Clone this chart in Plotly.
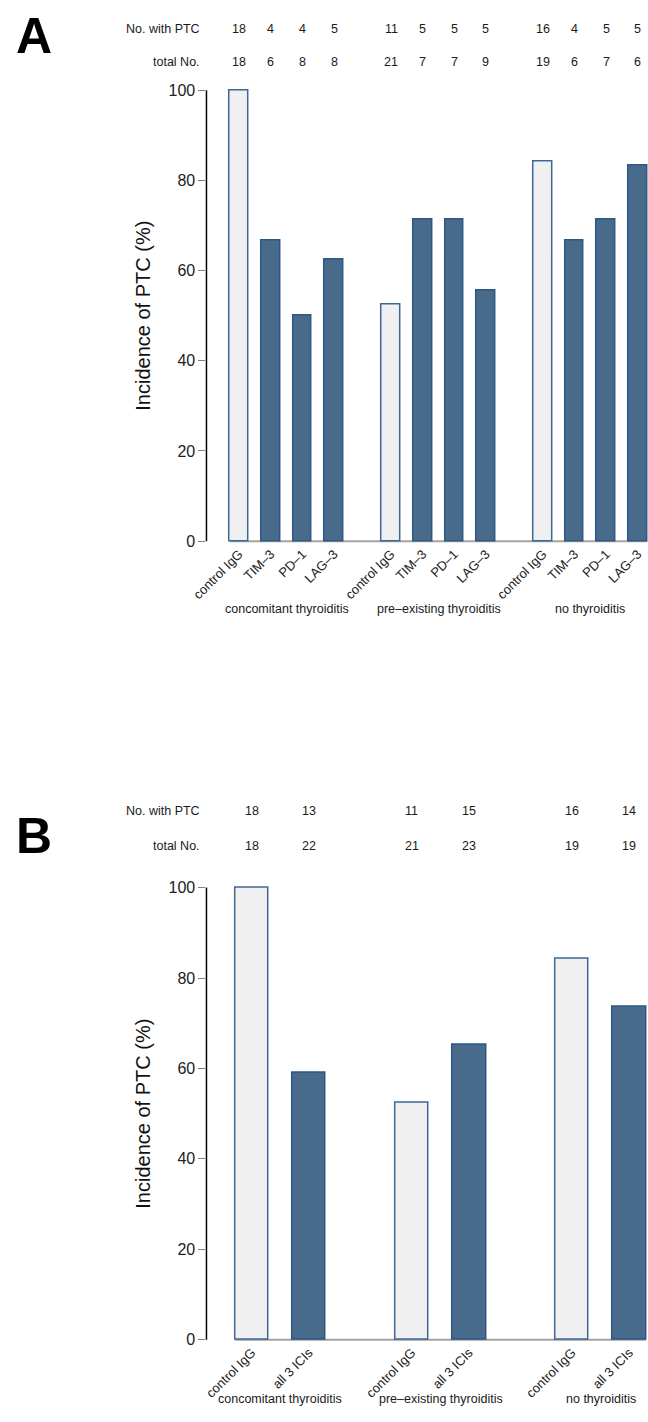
import plotly.graph_objects as go

W, H = 648, 1422
FONT = "Liberation Sans, Arial, Helvetica, sans-serif"

# ---------------- data ----------------
groups = ["concomitant thyroiditis", "pre\u2013existing thyroiditis", "no thyroiditis"]

a_treatments = ["control IgG", "TIM\u20133", "PD\u20131", "LAG\u20133"]
a_no_ptc = [[18, 4, 4, 5], [11, 5, 5, 5], [16, 4, 5, 5]]
a_total = [[18, 6, 8, 8], [21, 7, 7, 9], [19, 6, 7, 6]]
a_incidence = [[100.0, 66.7, 50.0, 62.5], [52.4, 71.4, 71.4, 55.6], [84.2, 66.7, 71.4, 83.3]]

b_treatments = ["control IgG", "all 3 ICIs"]
b_no_ptc = [[18, 13], [11, 15], [16, 14]]
b_total = [[18, 22], [21, 23], [19, 19]]
b_incidence = [[100.0, 59.1], [52.4, 65.2], [84.2, 73.7]]

y_ticks = [0, 20, 40, 60, 80, 100]

# ---------------- styles ----------------
LIGHT_FILL, LIGHT_LINE = "#eff0ef", "#3d6896"
DARK_FILL, DARK_LINE = "#486a8b", "#2d5884"
BAR_W = 0.59
GROUP_GAP = 0.8


def py(px):
    return 1 - px / H


fig = go.Figure()
annotations = []
shapes = []


def add_panel(idx, treatments, no_ptc, total, incidence, y_top_px, y_bot_px,
              row1_px, row2_px, label_px, letter, letter_px, xrange):
    xa = "x" if idx == 1 else "x2"
    ya = "y" if idx == 1 else "y2"
    n = len(treatments)
    positions, texts, vals, fills, lines = [], [], [], [], []
    for g in range(len(groups)):
        for i in range(n):
            positions.append(g * (n + GROUP_GAP) + i)
            texts.append(treatments[i])
            vals.append(incidence[g][i])
            fills.append(LIGHT_FILL if i == 0 else DARK_FILL)
            lines.append(LIGHT_LINE if i == 0 else DARK_LINE)
    # baseline
    shapes.append(dict(type="line", xref=xa, yref=ya,
                       x0=positions[0] - BAR_W / 2, x1=positions[-1] + BAR_W / 2,
                       y0=0, y1=0, line=dict(color="#a3a3a3", width=2), layer="below"))
    fig.add_trace(go.Bar(x=positions, y=vals, width=BAR_W, xaxis=xa, yaxis=ya,
                         marker=dict(color=fills, line=dict(color=lines, width=1.5)),
                         showlegend=False, hoverinfo="skip"))
    # y axis line
    shapes.append(dict(type="line", xref=xa + " domain", yref=ya, x0=0, x1=0,
                       y0=0, y1=100, line=dict(color="black", width=1.5)))
    # table
    k = 0
    for g in range(len(groups)):
        for i in range(n):
            annotations.append(dict(x=positions[k], y=py(row1_px), xref=xa, yref="paper",
                                    text=str(no_ptc[g][i]), showarrow=False,
                                    font=dict(size=12.5, color="#1a1a1a", family=FONT)))
            annotations.append(dict(x=positions[k], y=py(row2_px), xref=xa, yref="paper",
                                    text=str(total[g][i]), showarrow=False,
                                    font=dict(size=12.5, color="#1a1a1a", family=FONT)))
            k += 1
        gpos = positions[g * n:(g + 1) * n]
        annotations.append(dict(x=(gpos[0] + gpos[-1]) / 2, y=py(label_px), xref=xa, yref="paper",
                                text=groups[g], showarrow=False,
                                font=dict(size=12.5, color="#1a1a1a", family=FONT)))
    annotations.append(dict(x=191 / W, y=py(row1_px), xref="paper", yref="paper",
                            text="No. with PTC", showarrow=False, xanchor="right",
                            font=dict(size=12.5, color="#1a1a1a", family=FONT)))
    annotations.append(dict(x=191 / W, y=py(row2_px), xref="paper", yref="paper",
                            text="total No.", showarrow=False, xanchor="right",
                            font=dict(size=12.5, color="#1a1a1a", family=FONT)))
    annotations.append(dict(x=0, y=py(letter_px), xref="paper", yref="paper",
                            text="<b>%s</b>" % letter, showarrow=False, xanchor="left",
                            yanchor="top", borderpad=0,
                            font=dict(size=50, color="black", family=FONT)))
    xaxis = dict(domain=[196 / W, 1], range=xrange, tickmode="array",
                 tickvals=positions, ticktext=texts, tickangle=-45,
                 tickfont=dict(size=13, color="#222", family=FONT),
                 showline=False, showgrid=False, zeroline=False, ticks="",
                 anchor=ya, fixedrange=True)
    yaxis = dict(domain=[py(y_bot_px), py(y_top_px)], range=[-0.4, 100.4],
                 tickmode="array", tickvals=y_ticks,
                 ticktext=[str(v) for v in y_ticks],
                 tickfont=dict(size=16, color="#222", family=FONT),
                 ticks="outside", ticklen=7, tickcolor="#808080", tickwidth=1,
                 showline=False, showgrid=False, zeroline=False,
                 title=dict(text="Incidence of PTC (%)", standoff=12,
                            font=dict(size=20, color="#111", family=FONT)),
                 anchor=xa, fixedrange=True)
    return xaxis, yaxis


xa1, ya1 = add_panel(1, a_treatments, a_no_ptc, a_total, a_incidence,
                     82.2, 541.3, 12.7, 46.7, 608, "A", 0, [-1.034, 12.92])
xa2, ya2 = add_panel(2, b_treatments, b_no_ptc, b_total, b_incidence,
                     887.5, 1347.8, 812, 847, 1415, "B", 808, [-0.795, 6.93])

fig.update_layout(
    width=W, height=H, autosize=False,
    margin=dict(l=0, r=0, t=0, b=0),
    paper_bgcolor="white", plot_bgcolor="white",
    font=dict(family=FONT),
    xaxis=xa1, yaxis=ya1, xaxis2=xa2, yaxis2=ya2,
    annotations=annotations, shapes=shapes, bargap=0,
)

fig.write_html("out.html", config={"displayModeBar": False},
               post_script="document.body.style.margin='0';document.body.style.overflow='hidden';")
